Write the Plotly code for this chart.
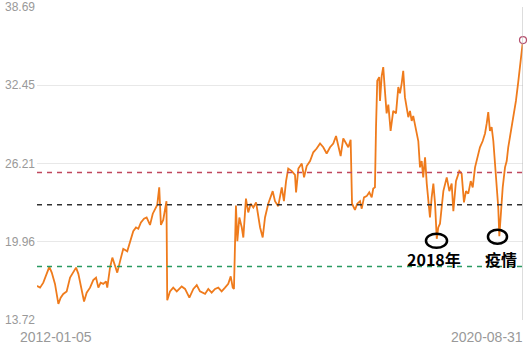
import pandas as pd
import plotly.graph_objects as go

start_date = "2012-01-05"
# days since start date
day_offsets = [
    0, 20, 41, 63, 80, 96, 117, 139, 154, 171, 193, 215, 236, 254, 269, 284, 306, 323, 345, 366,
    384, 399, 414, 431, 449, 457, 475, 490, 507, 522, 540, 561, 587, 605, 626, 644, 659, 676, 696, 713,
    735, 753, 767, 782, 795, 806, 821, 837, 842, 847, 865, 886, 909, 941, 963, 991, 1017, 1039, 1060, 1093,
    1114, 1136, 1158, 1179, 1201, 1223, 1244, 1260, 1273, 1281, 1294, 1303, 1316, 1332, 1342, 1359, 1374, 1390, 1407, 1425,
    1436, 1451, 1468, 1483, 1504, 1533, 1548, 1569, 1592, 1606, 1620, 1634, 1657, 1678, 1685, 1700, 1722, 1737, 1754, 1776,
    1797, 1819, 1841, 1862, 1884, 1906, 1927, 1945, 1960, 1975, 1992, 2010, 2025, 2040, 2049, 2068, 2083, 2101, 2112, 2127,
    2144, 2161, 2177, 2187, 2198, 2205, 2213, 2226, 2231, 2242, 2252, 2263, 2274, 2285, 2300, 2317, 2335, 2350, 2361, 2372,
    2382, 2393, 2404, 2415, 2426, 2437, 2447, 2465, 2480, 2491, 2502, 2512, 2524, 2535, 2545, 2556, 2567, 2578, 2589, 2600,
    2610, 2621, 2632, 2643, 2665, 2682, 2697, 2708, 2725, 2747, 2762, 2777, 2790, 2805, 2821, 2834, 2849, 2864, 2881, 2899,
    2914, 2925, 2935, 2946, 2957, 2968, 2979, 2990, 3000, 3007, 3018, 3029, 3044, 3055, 3065, 3081, 3098, 3115, 3130, 3141,
    3152, 3161,
]
pe_values = [
    16.44, 16.3, 16.7, 17.4, 17.96, 17.5, 16.6, 15.0, 15.5, 15.8, 16.0, 17.1, 17.6, 17.9, 17.4, 16.6, 15.2, 15.9, 16.3, 16.9,
    17.1, 16.3, 16.7, 16.6, 16.8, 16.3, 17.9, 18.7, 18.0, 17.5, 18.4, 19.4, 19.2, 20.0, 20.8, 21.1, 21.0, 21.5, 21.8, 21.9,
    21.3, 22.2, 22.5, 22.9, 24.3, 21.3, 21.7, 23.1, 23.2, 15.3, 16.0, 16.3, 16.0, 16.4, 16.2, 15.5, 16.2, 16.5, 16.0, 15.8,
    16.2, 15.9, 16.2, 16.3, 16.0, 16.3, 16.6, 17.2, 16.3, 16.2, 22.85, 20.0, 21.9, 21.1, 20.3, 23.4, 22.3, 23.0, 22.7, 23.1,
    22.2, 21.1, 20.3, 21.9, 23.0, 24.0, 23.2, 22.8, 24.3, 23.2, 24.8, 25.8, 25.6, 25.3, 23.9, 25.8, 26.2, 25.1, 26.0, 26.4,
    27.1, 27.4, 27.8, 27.5, 27.0, 27.5, 27.8, 28.4, 27.6, 26.8, 28.2, 27.8, 27.5, 28.1, 23.0, 22.5, 23.0, 23.2, 22.6, 23.5,
    23.6, 23.9, 23.5, 24.2, 24.3, 29.1, 32.8, 33.1, 31.2, 33.2, 33.9, 32.0, 30.2, 30.9, 28.8, 30.4, 30.2, 32.3, 31.8, 32.6,
    33.6, 31.5, 30.7, 29.9, 30.4, 29.6, 30.0, 28.8, 28.0, 25.9, 26.4, 25.1, 26.7, 24.6, 23.0, 21.9, 23.5, 24.6, 23.0, 20.2,
    21.1, 21.4, 22.7, 24.0, 25.1, 24.0, 24.6, 22.4, 24.8, 25.6, 25.4, 23.1, 24.0, 23.8, 24.8, 24.3, 25.9, 26.7, 27.5, 28.0,
    28.6, 29.4, 30.3, 28.8, 29.1, 28.0, 26.2, 25.1, 22.7, 20.4, 22.7, 24.3, 25.9, 26.4, 27.5, 28.6, 29.9, 31.2, 32.7, 33.9,
    35.0, 36.05,
]
y_ticks = [13.72, 19.96, 26.21, 32.45, 38.69]
y_tick_labels = ["13.72", "19.96", "26.21", "32.45", "38.69"]
x_labels = ["2012-01-05", "2020-08-31"]

# reference levels
ref_levels = [25.48, 22.92, 17.99]
ref_colors = ["#c0485e", "#333333", "#2a9a62"]

# annotations (day offsets, value)
notes = [
    {"text": "2018年", "day": 2579, "y": 18.56, "ell": (2530, 2667, 19.48, 20.60)},
    {"text": "疫情", "day": 3021, "y": 18.56, "ell": (2933, 3057, 19.80, 20.92)},
]

t0 = pd.Timestamp(start_date)
dates = [t0 + pd.Timedelta(days=d) for d in day_offsets]

fig = go.Figure()
fig.add_trace(go.Scatter(
    x=dates, y=pe_values, mode="lines",
    line=dict(color="#ef7b1c", width=1.8), hoverinfo="skip", showlegend=False,
))
fig.add_trace(go.Scatter(
    x=[dates[-1]], y=[pe_values[-1]], mode="markers",
    marker=dict(symbol="circle", size=7, color="white", line=dict(color="#b5506e", width=1.2)),
    showlegend=False, hoverinfo="skip", cliponaxis=False,
))

for lv, c in zip(ref_levels, ref_colors):
    fig.add_shape(type="line", xref="paper", x0=0, x1=1, yref="y", y0=lv, y1=lv,
                  line=dict(color=c, width=1.5, dash="5px,5px"))

fig.add_shape(type="line", xref="x", x0=dates[-1], x1=dates[-1], yref="paper", y0=0, y1=1,
              line=dict(color="#bbbbbb", width=1))

for n in notes:
    e = n["ell"]
    fig.add_shape(type="circle", xref="x", yref="y",
                  x0=t0 + pd.Timedelta(days=e[0]), x1=t0 + pd.Timedelta(days=e[1]),
                  y0=e[2], y1=e[3], line=dict(color="black", width=2.5))
    fig.add_annotation(x=t0 + pd.Timedelta(days=n["day"]), y=n["y"], text="<b>" + n["text"] + "</b>",
                       showarrow=False, font=dict(size=16, color="black",
                                                  family="Noto Sans CJK SC, Liberation Sans"))

fig.add_annotation(xref="paper", yref="paper", x=0.04, y=-0.022, xanchor="center", yanchor="top",
                   text=x_labels[0], showarrow=False,
                   font=dict(size=14, color="#999999", family="Liberation Sans, Arial"))
fig.add_annotation(xref="paper", yref="paper", x=1.004, y=-0.022, xanchor="right", yanchor="top",
                   text=x_labels[1], showarrow=False,
                   font=dict(size=14, color="#999999", family="Liberation Sans, Arial"))

fig.update_xaxes(range=[dates[0], dates[-1]], showgrid=False, showticklabels=False,
                 zeroline=False, showline=False, automargin=False)
fig.update_yaxes(range=[y_ticks[0], y_ticks[-1]], tickvals=y_ticks, ticktext=y_tick_labels,
                 showgrid=True, gridcolor="#e8e8e8", gridwidth=1, zeroline=False, showline=False,
                 tickfont=dict(size=12, color="#999999", family="Liberation Sans, Arial"),
                 ticks="", ticklabelstandoff=1, automargin=False)

fig.update_layout(
    width=532, height=355, margin=dict(l=37, r=9, t=7, b=35, autoexpand=False),
    plot_bgcolor="white", paper_bgcolor="white",
)
fig.write_html("out.html")
